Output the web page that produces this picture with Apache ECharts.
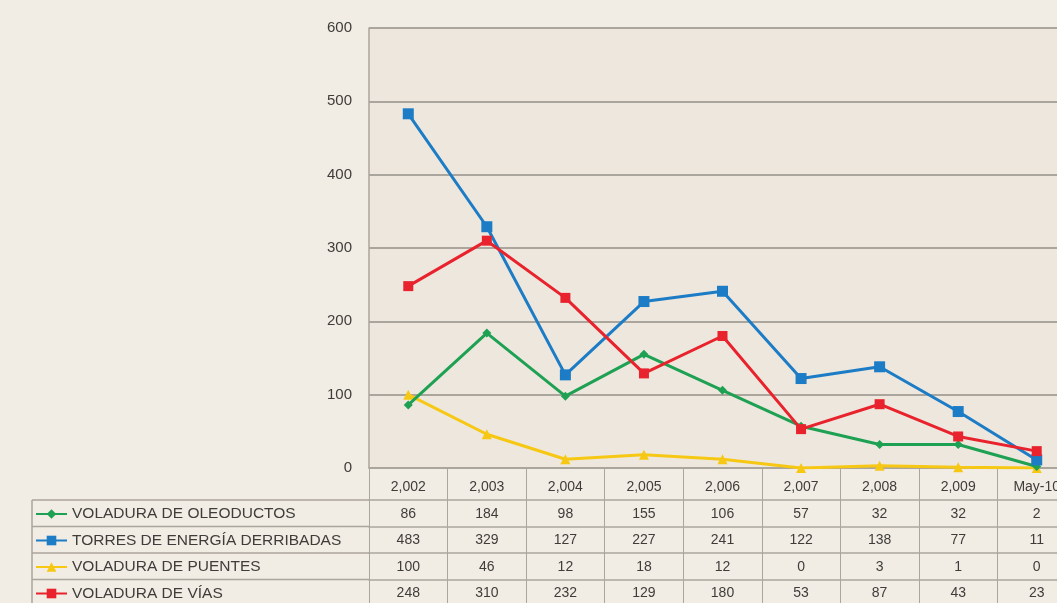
<!DOCTYPE html>
<html>
<head>
<meta charset="utf-8">
<script src="https://cdn.jsdelivr.net/npm/echarts@6/dist/echarts.min.js"></script>
<style>
  html, body { margin: 0; padding: 0; overflow: hidden; background: #f1ece4; }
  #main-echart { width: 1100px; height: 603px; }
</style>
</head>
<body>
<div id="main-echart"></div>
<script>
// data
const years = ['2,002', '2,003', '2,004', '2,005', '2,006', '2,007', '2,008', '2,009', 'May-10'];
const oleoductos = [86, 184, 98, 155, 106, 57, 32, 32, 2];
const torres = [483, 329, 127, 227, 241, 122, 138, 77, 11];
const puentes = [100, 46, 12, 18, 12, 0, 3, 1, 0];
const vias = [248, 310, 232, 129, 180, 53, 87, 43, 23];
const yTicks = [0, 100, 200, 300, 400, 500, 600];

const names = ['VOLADURA DE OLEODUCTOS', 'TORRES DE ENERGÍA DERRIBADAS', 'VOLADURA DE PUENTES', 'VOLADURA DE VÍAS'];
const rows = [oleoductos, torres, puentes, vias];
const colors = ['#1fa154', '#1c7cc6', '#f6c814', '#e8232d'];
const symbols = ['diamond', 'rect', 'triangle', 'rect'];
const symbolSizes = [9, 11, 10, 10];

const gridColor = '#aaa59d';
const textColor = '#3f3d3a';
const font = '"Liberation Sans", Arial, sans-serif';
const rowH = 26.5;
const headH = 32;
const plotBottom = 468;

try {
	let myChart = echarts.init(document.getElementById('main-echart'));

	// main x axis = header row of the table
	let xAxes = [{
		type: 'category',
		data: years,
		position: 'bottom',
		gridIndex: 0,
		axisLine: { lineStyle: { color: gridColor, width: 1.5 } },
		axisTick: { show: true, interval: 0, length: headH, lineStyle: { color: gridColor } },
		axisLabel: { interval: 0, margin: 12, color: textColor, fontSize: 14, fontFamily: font }
	}];

	// one extra axis per table row, labels are the values
	rows.forEach(function(vals, r) {
		xAxes.push({
			type: 'category',
			data: years,
			position: 'bottom',
			gridIndex: 0,
			offset: headH + r * rowH,
			axisLine: { lineStyle: { color: gridColor, width: 1.5 } },
			axisTick: { show: true, interval: 0, length: rowH, lineStyle: { color: gridColor } },
			axisLabel: {
				interval: 0, margin: 7, color: textColor, fontSize: 14, fontFamily: font,
				formatter: function(v, i) { return String(vals[i]); }
			}
		});
	});

	// one legend per table row so each sits in its own cell
	const legends = names.map(function(n, r) {
		return {
			left: 35,
			top: plotBottom + headH + r * rowH + 6,
			padding: 0,
			itemWidth: 31,
			itemHeight: 12,
			itemTextGap: 4,
			data: [n],
			textStyle: { color: textColor, fontSize: 15.5, fontFamily: font }
		};
	});

	let option = {
		animation: false,
		backgroundColor: '#f1ece4',
		grid: { left: 369, right: 24, top: 28, bottom: 603 - plotBottom, show: true, backgroundColor: '#eee7dd', borderWidth: 0 },
		legend: legends,
		xAxis: xAxes,
		yAxis: {
			type: 'value',
			min: yTicks[0],
			max: yTicks[yTicks.length - 1],
			interval: 100,
			axisLine: { show: true, lineStyle: { color: gridColor, width: 1.5 } },
			axisTick: { show: false },
			splitLine: { lineStyle: { color: gridColor, width: 1.8 } },
			axisLabel: { margin: 17, color: textColor, fontSize: 15, fontFamily: font }
		},
		graphic: [0, 1, 2, 3].map(function(r) {
			return {
				type: 'line',
				shape: { x1: 32, y1: plotBottom + headH + r * rowH, x2: 369, y2: plotBottom + headH + r * rowH },
				style: { stroke: gridColor, lineWidth: 1.5 }
			};
		}).concat([{
			type: 'line',
			shape: { x1: 32, y1: plotBottom + headH, x2: 32, y2: 603 },
			style: { stroke: gridColor, lineWidth: 1.5 }
		}]),
		series: rows.map(function(vals, i) {
			return {
				name: names[i],
				type: 'line',
				data: vals,
				symbol: symbols[i],
				symbolSize: symbolSizes[i],
				color: colors[i],
				lineStyle: { width: 3 },
				z: i === 2 ? 1 : 2 + i
			};
		})
	};

	myChart.setOption(option);
} catch (e) {
	console.log(e);
}
</script>
</body>
</html>
